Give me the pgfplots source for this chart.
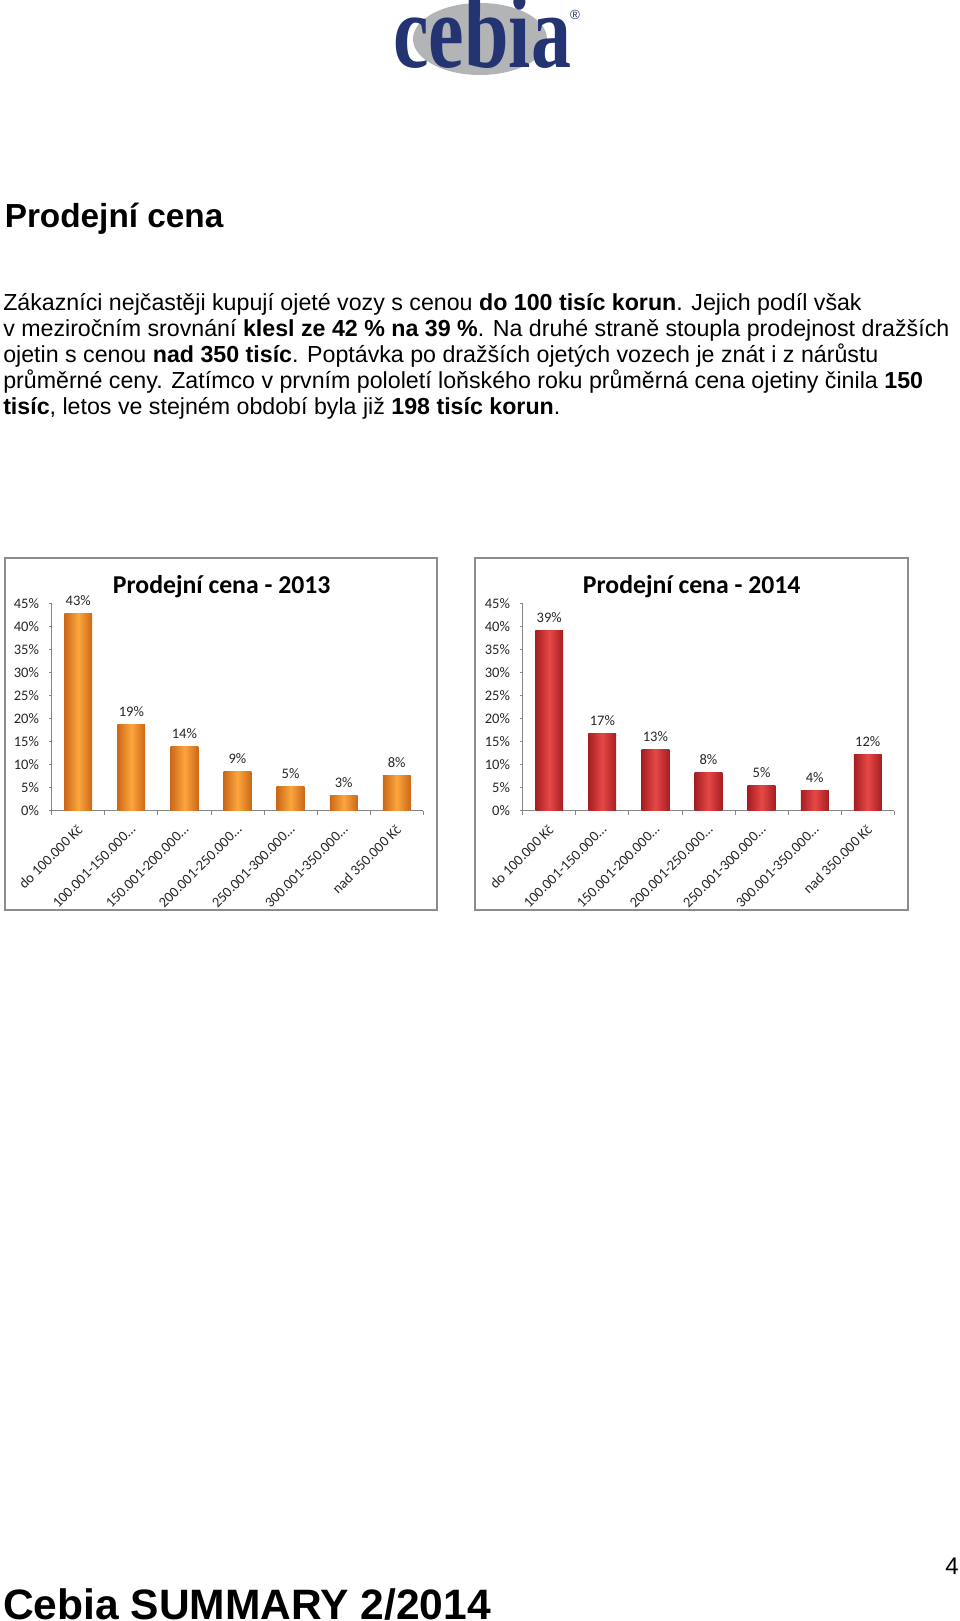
\documentclass[border=0pt]{standalone}
\usepackage{fontspec}
\setmainfont{Liberation Sans}
\newfontfamily\chartfont{Carlito}
\newfontfamily\logofont{Liberation Serif}
\usepackage{graphicx}
\usepackage{pgfplots}
\pgfplotsset{compat=1.18}

\definecolor{framegray}{RGB}{140,140,140}
\definecolor{axisgray}{RGB}{134,134,134}
\definecolor{orangeL}{RGB}{204,104,24}
\definecolor{orangeM}{RGB}{252,166,62}
\definecolor{redL}{RGB}{166,30,34}
\definecolor{redM}{RGB}{230,72,70}
\definecolor{navy}{RGB}{36,52,115}
\definecolor{logogray}{RGB}{178,180,182}

\newcommand\chartsize{\chartfont\fontsize{10.9}{12}\selectfont}

\pgfplotsset{
  pricebars/.style={
    scale only axis, width=278.7pt, height=155.55pt,
    anchor=south west,
    xmin=-0.5, xmax=6.5, ymin=0, ymax=45,
    axis x line*=bottom, axis y line*=left,
    axis line style={axisgray, line width=0.6pt},
    ytick={0,5,...,45},
    yticklabels={0\%,5\%,10\%,15\%,20\%,25\%,30\%,35\%,40\%,45\%},
    xtick={0,...,6},
    xticklabels={do 100.000 Kč, 100.001-150.000…, 150.001-200.000…,
                 200.001-250.000…, 250.001-300.000…, 300.001-350.000…,
                 nad 350.000 Kč},
    minor xtick={-0.5,0.5,...,6.5},
    major x tick style={draw=none},
    tick align=outside,
    major tick length=2pt, minor tick length=3pt,
    tick style={axisgray, line width=0.6pt},
    ticklabel style={font=\chartsize, text=black!85},
    yticklabel style={xshift=-4pt},
    xticklabel style={xshift=3.7pt, yshift=-8pt, rotate=45, anchor=east},
    ybar, bar width=20.8pt,
    nodes near coords, point meta=explicit symbolic,
    every node near coord/.append style={font=\chartsize, text=black!85,
      anchor=base, yshift=6pt},
  },
  orangebars/.style={every axis plot/.append style={bar shift=0pt, draw=none,
      left color=orangeL, right color=orangeL, middle color=orangeM}},
  redbars/.style={every axis plot/.append style={bar shift=0pt, draw=none,
      left color=redL, right color=redL, middle color=redM}},
}

\begin{document}
\begin{tikzpicture}
\begin{scope}[x=0.75pt, y=0.75pt]
\path[use as bounding box] (0,0) rectangle (960,1621);

% logo
\fill[logogray] (480,1582) ellipse [x radius=67, y radius=36];
\node[anchor=base west, inner sep=0pt, text=navy,
      font=\logofont\bfseries\fontsize{79}{80}\selectfont]
  at (393,1553) {\scalebox{0.76}[1]{cebia}};
\node[text=navy, inner sep=0pt, font=\fontsize{10}{10}\selectfont] at (575,1606) {®};

% heading and text
\node[anchor=base west, inner sep=0pt, font=\bfseries\fontsize{25}{28}\selectfont]
  at (4.5,1393) {Prodejní cena};
\begin{scope}[every node/.style={anchor=base west, inner sep=0pt,
    font=\fontsize{17.4}{20}\selectfont}]
\node at (3,1310.5) {Zákazníci nejčastěji kupují ojeté vozy s cenou \textbf{do 100 tisíc korun}. Jejich podíl však};
\node at (3,1284.5) {v meziročním srovnání \textbf{klesl ze 42 \% na 39 \%}. Na druhé straně stoupla prodejnost dražších};
\node at (3,1258.5) {ojetin s cenou \textbf{nad 350 tisíc}. Poptávka po dražších ojetých vozech je znát i z nárůstu};
\node at (3,1232.5) {průměrné ceny. Zatímco v prvním pololetí loňského roku průměrná cena ojetiny činila \textbf{150}};
\node at (3,1206.5) {\textbf{tisíc}, letos ve stejném období byla již \textbf{198 tisíc korun}.};
\end{scope}

% chart frames and titles
\draw[framegray, line width=1.1pt] (5,711) rectangle (437,1063);
\draw[framegray, line width=1.1pt] (475,711) rectangle (908,1063);
\node[anchor=base, font=\chartfont\bfseries\fontsize{19.3}{22}\selectfont]
  at (221.7,1027.7) {Prodejní cena - 2013};
\node[anchor=base, font=\chartfont\bfseries\fontsize{19.3}{22}\selectfont]
  at (691.7,1027.7) {Prodejní cena - 2014};

% footer
\node[anchor=base west, inner sep=0pt, font=\bfseries\fontsize{31.9}{36}\selectfont]
  at (3,2) {Cebia SUMMARY 2/2014};
\node[anchor=base east, inner sep=0pt, font=\fontsize{18}{20}\selectfont]
  at (959,46) {4};
\end{scope}

% 2013: one plot per bar, so that each bar gets its own shading
\begin{axis}[pricebars, orangebars, at={(38.775pt,607.725pt)}]
\addplot coordinates {(0,42.7) [43\%]};
\addplot coordinates {(1,18.6) [19\%]};
\addplot coordinates {(2,13.9) [14\%]};
\addplot coordinates {(3,8.5) [9\%]};
\addplot coordinates {(4,5.2) [5\%]};
\addplot coordinates {(5,3.2) [3\%]};
\addplot coordinates {(6,7.7) [8\%]};
\end{axis}

% 2014
\begin{axis}[pricebars, redbars, at={(392.025pt,607.725pt)}]
\addplot coordinates {(0,39.2) [39\%]};
\addplot coordinates {(1,16.8) [17\%]};
\addplot coordinates {(2,13.3) [13\%]};
\addplot coordinates {(3,8.3) [8\%]};
\addplot coordinates {(4,5.4) [5\%]};
\addplot coordinates {(5,4.4) [4\%]};
\addplot coordinates {(6,12.2) [12\%]};
\end{axis}
\end{tikzpicture}
\end{document}
